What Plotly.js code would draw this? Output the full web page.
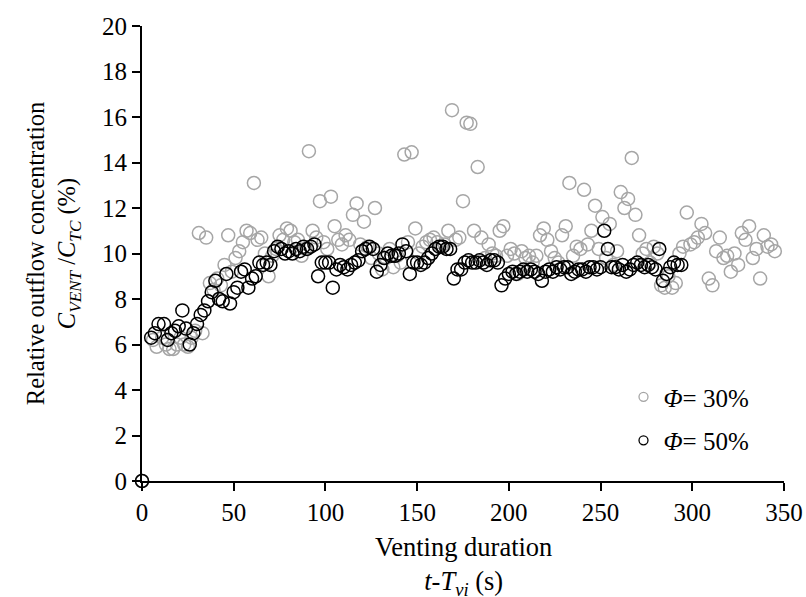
<!DOCTYPE html>
<html>
<head>
<meta charset="utf-8">
<script src="https://cdn.plot.ly/plotly-3.0.1.min.js"></script>
<style>html,body{margin:0;padding:0;background:#fff;}#chart{width:806px;height:597px;}</style>
</head>
<body>
<div id="chart"></div>
<script>
// Φ = 30% series
var x30 = [0,6,8,11,13,15,17,19,21,23,25,27,29,31,33,35,37,39,41,43,45,47,49,51,53,55,57,59,61,63,65,67,69,71,73,75,77,79,81,83,85,87,89,91,93,95,97,99,101,103,105,107,109,111,113,115,117,119,121,123,125,127,129,131,133,135,137,139,141,143,145,147,149,151,153,155,157,159,161,163,165,167,169,171,173,175,177,179,181,183,185,187,189,191,193,195,197,199,201,203,205,207,209,211,213,215,217,219,221,223,225,227,229,231,233,235,237,239,241,243,245,247,249,251,253,255,257,259,261,263,265,267,269,271,273,275,277,279,281,283,285,287,289,291,293,295,297,299,301,303,305,307,309,311,313,315,317,319,321,323,325,327,329,331,333,335,337,339,341,343,345];
var y30 = [0,6.2,5.9,6.3,6.0,5.8,5.8,6.0,6.3,6.0,5.9,6.3,6.6,10.9,6.5,10.7,8.7,8.4,8.9,8.6,9.5,10.8,9.2,9.8,10.1,10.5,11.0,10.9,13.1,10.6,10.7,10.0,9.0,9.9,10.2,10.8,10.6,11.1,11.0,10.5,10.6,9.9,10.2,14.5,11.0,10.7,12.3,10.5,10.2,12.5,11.2,10.6,10.4,10.8,10.6,11.7,12.2,10.4,11.4,10.3,9.8,12.0,10.0,9.3,9.8,10.2,9.4,9.9,9.6,14.35,10.5,14.45,11.1,10.0,10.3,10.5,10.6,10.7,10.5,10.3,10.4,11.0,16.3,10.6,10.7,12.3,15.75,15.7,11.0,13.8,10.7,9.8,10.4,10.0,9.9,11.0,11.2,9.9,10.2,10.0,9.1,10.1,9.8,9.9,9.6,9.9,10.8,11.1,10.6,10.1,9.8,9.6,10.8,11.2,13.1,9.9,10.3,10.2,12.8,10.4,11.0,12.1,10.2,11.6,9.8,11.3,9.5,10.1,12.7,12.0,12.4,14.2,11.7,10.8,10.0,10.2,9.6,10.3,10.0,8.6,8.5,9.0,8.5,8.7,10.0,10.3,11.8,10.4,10.5,10.7,11.3,10.9,8.9,8.6,10.1,10.7,9.8,9.9,9.2,10.0,9.5,10.9,10.6,11.2,9.8,10.2,8.9,10.8,10.3,10.4,10.1];
// Φ = 50% series
var x50 = [0,5,7,9,12,14,16,18,20,22,24,26,28,30,32,34,36,38,40,42,44,46,48,50,52,54,56,58,60,62,64,66,68,70,72,74,76,78,80,82,84,86,88,90,92,94,96,98,100,102,104,106,108,110,112,114,116,118,120,122,124,126,128,130,132,134,136,138,140,142,144,146,148,150,152,154,156,158,160,162,164,166,168,170,172,174,176,178,180,182,184,186,188,190,192,194,196,198,200,202,204,206,208,210,212,214,216,218,220,222,224,226,228,230,232,234,236,238,240,242,244,246,248,250,252,254,256,258,260,262,264,266,268,270,272,274,276,278,280,282,284,286,288,290,292,294];
var y50 = [0,6.3,6.5,6.9,6.9,6.2,6.5,6.6,6.8,7.5,6.7,6.0,6.5,6.9,7.3,7.5,7.9,8.3,8.8,8.0,7.9,9.1,7.8,8.3,8.5,9.2,9.3,8.5,8.9,9.0,9.6,9.5,9.6,9.5,10.1,10.3,10.2,10.0,10.1,10.0,10.2,10.1,10.3,10.2,10.3,10.4,9.0,9.6,9.6,9.6,8.5,9.3,9.5,9.4,9.3,9.5,9.6,9.7,10.1,10.2,10.3,10.2,9.2,9.5,9.8,10.0,9.9,9.9,10.0,10.4,10.1,9.1,9.6,9.6,9.5,9.6,9.8,10.0,10.2,10.3,10.3,10.2,10.2,8.9,9.3,9.3,9.6,9.7,9.6,9.6,9.7,9.6,9.5,9.7,9.7,9.6,8.6,8.9,9.1,9.2,9.1,9.2,9.3,9.2,9.3,9.2,9.1,8.8,9.2,9.3,9.2,9.4,9.3,9.4,9.4,9.1,9.2,9.3,9.3,9.2,9.4,9.4,9.3,9.4,11.0,10.2,9.4,9.4,9.3,9.5,9.2,9.3,9.5,9.6,9.5,9.4,9.5,9.4,9.3,10.2,8.8,9.1,9.4,9.6,9.5,9.5];
var names = ['<i>Φ</i>= 30%', '<i>Φ</i>= 50%'];
var colors = ['#a6a6a6', '#000000'];
var xTicks = [0,50,100,150,200,250,300,350];
var yTicks = [0,2,4,6,8,10,12,14,16,18,20];
var xTitle = 'Venting duration<br><i>t</i>-<i>T</i><sub><i>vi</i></sub> (s)';
var yTitle = 'Relative outflow concentration<br><i>C</i><sub><i>VENT</i></sub> /<i>C</i><sub><i>TC</i></sub> (%)';

var FONT = '"Liberation Serif", "Times New Roman", serif';
var FS = 25;
function mk(x, y, i, showLeg) {
  return {
    x: x, y: y, type: 'scatter', mode: 'markers', name: names[i],
    showlegend: showLeg, legendgroup: 'g' + i, cliponaxis: false,
    marker: {symbol: 'circle-open', size: 13, color: colors[i], line: {width: 1.5, color: colors[i]}}
  };
}
function leg(i) {
  return {
    x: [null], y: [null], type: 'scatter', mode: 'markers', name: names[i],
    showlegend: true, legendgroup: 'g' + i,
    marker: {symbol: 'circle-open', size: 9, color: colors[i], line: {width: 1.3, color: colors[i]}}
  };
}
var data = [mk(x30, y30, 0, false), mk(x50, y50, 1, false), leg(0), leg(1)];
var axBase = {
  showline: true, linecolor: '#000', linewidth: 2, showgrid: false, zeroline: false,
  ticks: 'outside', ticklen: 8, tickwidth: 2, tickcolor: '#000',
  tickfont: {family: FONT, size: FS, color: '#000'}, mirror: false, fixedrange: true
};
var layout = {
  width: 806, height: 597,
  margin: {l: 142, r: 22, t: 26, b: 116},
  paper_bgcolor: '#fff', plot_bgcolor: '#fff',
  font: {family: FONT, size: FS, color: '#000'},
  xaxis: Object.assign({}, axBase, {
    range: [0, 350], tickvals: xTicks, ticktext: xTicks.map(String)
  }),
  yaxis: Object.assign({}, axBase, {
    range: [0, 20], tickvals: yTicks, ticktext: yTicks.map(String),
    title: {text: yTitle, font: {family: FONT, size: 24.5, color: '#000'}, standoff: 19}
  }),
  annotations: [{
    text: xTitle, xref: 'paper', yref: 'paper', x: 0.5, y: 0,
    xanchor: 'center', yanchor: 'top', yshift: -49, showarrow: false,
    font: {family: FONT, size: 26.5, color: '#000'}
  }],
  showlegend: true,
  legend: {
    x: 0.75, y: 0.235, xanchor: 'left', yanchor: 'top',
    bgcolor: 'rgba(0,0,0,0)', borderwidth: 0,
    font: {family: FONT, size: FS, color: '#000'},
    traceorder: 'grouped', tracegroupgap: 8
  }
};
Plotly.newPlot('chart', data, layout, {staticPlot: true, displayModeBar: false});
</script>
</body>
</html>
